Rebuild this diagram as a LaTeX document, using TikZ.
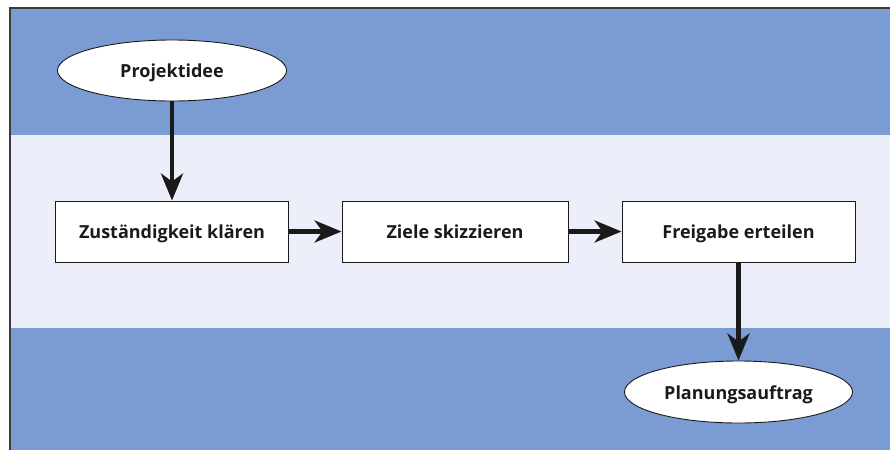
\documentclass[tikz,border=0pt]{standalone}
\usepackage{fontspec}
\setmainfont{Open Sans}
\usetikzlibrary{arrows.meta,shapes.geometric}
\definecolor{laneblue}{HTML}{7B9CD3}
\definecolor{lanelight}{HTML}{ECEEFA}
\definecolor{ink}{HTML}{1A1A1A}
\tikzset{
  labelfont/.style={font=\bfseries\fontsize{18}{21}\selectfont, text=ink, text height=14.5pt, text depth=0pt},
  stepbox/.style={draw=ink, line width=0.9pt, fill=white, minimum width=233pt, minimum height=61pt, inner sep=0pt, labelfont},
  termin/.style={ellipse, draw=ink, line width=0.9pt, fill=white, minimum width=229pt, minimum height=61pt, inner sep=0pt, labelfont},
  flow/.style={draw=ink, line width=4.5pt, -{Stealth[length=27pt, width=22pt, inset=8pt]}},
}
\begin{document}
\begin{tikzpicture}[x=1pt, y=-1pt]
  \useasboundingbox (0,0) rectangle (890,450);
  % swimlane bands
  \fill[laneblue] (10,8) rectangle (890,135);
  \fill[lanelight] (10,135) rectangle (890,328);
  \fill[laneblue] (10,328) rectangle (890,450);
  % frame edges
  \draw[ink!85, line width=1.8pt] (10,450) -- (10,8) -- (890,8);
  % nodes
  \node[termin] (idee) at (172,70.5) {Projektidee};
  \node[stepbox, minimum width=233pt] (zust) at (172,231.5) {Zuständigkeit klären};
  \node[stepbox, minimum width=226pt] (ziele) at (455,231.5) {Ziele skizzieren};
  \node[stepbox, minimum width=233pt] (frei) at (738.5,231.5) {Freigabe erteilen};
  \node[termin, minimum width=228pt, minimum height=62pt] (auftrag) at (738.5,392) {Planungsauftrag};
  % connectors
  \draw[flow] (idee) -- (zust);
  \draw[flow] (zust) -- (ziele);
  \draw[flow] (ziele) -- (frei);
  \draw[flow] (frei) -- (auftrag);
\end{tikzpicture}
\end{document}
